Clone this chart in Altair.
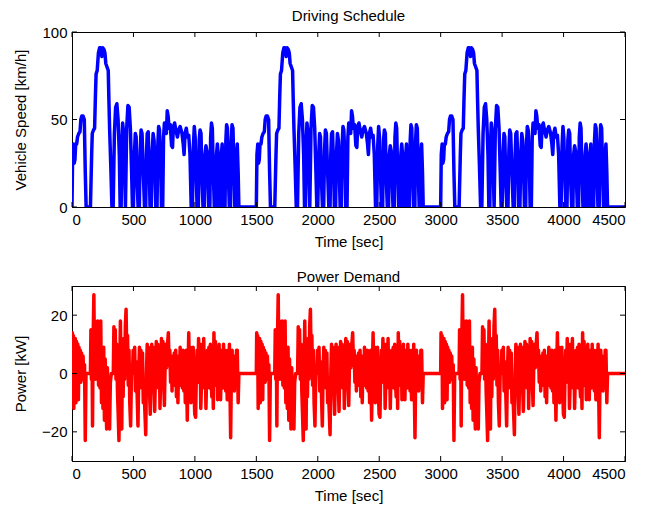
import altair as alt
import pandas as pd

# ---- one driving cycle (repeats every 1500 s) ----
cycle_offsets = [0, 1500, 3000]

speed_t = [0, 5, 12, 18, 24, 30, 38, 45, 55, 65, 72, 80, 90, 100, 108, 115, 150, 160, 165, 175, 184,
           190, 196, 205, 215, 225, 235, 243, 250, 260, 268, 275, 285, 295, 300, 306, 315, 325, 335,
           345, 355, 365, 375, 385, 392, 400, 405, 412, 420, 428, 435, 445, 455, 465, 475, 485, 492,
           500, 508, 515, 522, 530, 538, 548, 555, 562, 570, 580, 590, 600, 606, 612, 620, 628, 635,
           645, 652, 660, 668, 675, 682, 692, 698, 705, 712, 720, 728, 738, 745, 752, 760, 768, 775,
           782, 790, 800, 810, 818, 825, 835, 845, 858, 868, 880, 895, 905, 912, 920, 930, 940, 950,
           960, 970, 980, 988, 995, 1002, 1010, 1018, 1028, 1035, 1042, 1050, 1058, 1066, 1076, 1082,
           1090, 1098, 1105, 1112, 1122, 1128, 1135, 1142, 1150, 1158, 1170, 1176, 1183, 1190, 1198,
           1210, 1216, 1222, 1228, 1235, 1245, 1252, 1258, 1265, 1272, 1280, 1290, 1296, 1302, 1310,
           1318, 1325, 1332, 1338, 1345, 1352, 1358, 1500]
speed_kmh = [0, 30, 36, 25, 27, 36, 36, 40, 42, 43, 50, 52, 52, 50, 20, 0, 0, 30, 42, 44, 45,
             62, 76, 78, 88, 91, 91, 86, 91, 90, 88, 82, 80, 78, 62, 45, 25, 0, 0,
             42, 57, 59, 50, 30, 0, 0, 35, 48, 42, 20, 0, 45, 58, 57, 45, 20, 0,
             0, 30, 42, 40, 15, 0, 0, 32, 44, 42, 20, 0, 0, 30, 42, 43, 25, 0,
             0, 30, 42, 38, 20, 0, 0, 35, 46, 44, 30, 0, 0, 40, 48, 45, 42, 55,
             52, 45, 47, 35, 34, 46, 48, 44, 40, 44, 46, 42, 36, 30, 42, 45, 40, 41,
             30, 0, 0, 35, 46, 40, 20, 0, 0, 38, 44, 42, 15, 0, 0, 30,
             35, 32, 15, 0, 0, 40, 48, 45, 20, 0, 0, 30, 36, 30, 0,
             0, 30, 36, 20, 0, 0, 38, 47, 45, 20, 0, 0, 38, 47, 45,
             20, 0, 0, 30, 36, 20, 0, 0]

power_t = [0, 3, 7, 11, 15, 19, 23, 27, 32, 37, 42, 47, 52, 57, 62, 67, 72, 78, 84, 90, 96, 102, 108,
           114, 150, 154, 158, 162, 167, 172, 178, 183, 188, 193, 198, 204, 210, 216, 222, 228, 234,
           240, 246, 252, 258, 264, 270, 276, 282, 288, 294, 300, 306, 312, 320, 336, 341, 346, 352,
           358, 364, 370, 376, 382, 388, 394, 400, 405, 410, 416, 422, 428, 434, 440, 446, 452, 458,
           464, 470, 477, 484, 492, 498, 504, 510, 516, 522, 528, 537, 543, 549, 555, 561, 567, 574,
           580, 587, 594, 600, 606, 612, 618, 624, 630, 637, 643, 649, 655, 661, 667, 673, 679, 686,
           692, 698, 704, 710, 716, 722, 728, 734, 740, 746, 752, 758, 764, 770, 776, 784, 790, 796,
           802, 808, 814, 820, 826, 832, 838, 844, 850, 856, 862, 868, 874, 880, 886, 892, 898, 904,
           910, 916, 922, 930, 938, 944, 950, 956, 962, 968, 974, 980, 986, 992, 999, 1006, 1012,
           1018, 1024, 1030, 1036, 1042, 1048, 1054, 1060, 1066, 1072, 1078, 1084, 1090, 1096, 1102,
           1108, 1114, 1120, 1126, 1132, 1138, 1144, 1150, 1155, 1161, 1167, 1173, 1179, 1185, 1191,
           1197, 1203, 1209, 1215, 1221, 1227, 1233, 1239, 1245, 1251, 1257, 1263, 1269, 1275, 1281,
           1287, 1291, 1297, 1303, 1309, 1315, 1321, 1327, 1333, 1339, 1345, 1352, 1358, 1500]
power_kw = [0, 14, 6, 13, -12, 8, -8, 12, -10, 11, -4, 10, -9, 9, 1, 8, -3, 7, 0, 6, -2, 3, -23,
            0, 0, 15, -2, 14, -18, 12, 27, 4, 18, -2, 17, 2, 18, -4, 8, -5, 18,
            -10, 6, -12, 9, -16, 5, -8, -19, 2, -15, -6, -19, -3, 0, 0, 16, 4, 15,
            -2, 10, -6, -14, -23, 0, 18, -2, -19, 6, -8, 12, -2, 16, 22, 5, 13, -4,
            8, -10, -18, 0, 0, 8, 4, 9, -6, 4, -4, -18, 0, 9, -3, 8, -5, 7,
            -10, -6, -14, -21, 0, 10, -2, 9, -5, -14, 0, 10, -3, 9, -4, -13, 0, 11,
            -2, 10, -5, 8, -12, 0, 12, 3, 11, -3, -11, 4, 10, 2, 9, 14, 3, 8,
            -3, 6, -6, 4, -4, 7, -1, 8, -8, 5, -10, 6, -4, 9, 0, 7, -5, 8,
            -6, 5, -10, 8, -16, 0, 14, -1, 9, -10, 4, -6, 9, -5, -14, -15, 0,
            8, -3, 12, 2, 10, -12, -3, 10, 1, 12, -5, 5, -12, 0, 8,
            -3, 9, -5, 10, -3, -8, 4, -12, 14, 2, 11, -4, 9, -9, 1,
            10, -3, -9, 3, 8, -5, 10, -2, 8, -6, 5, -9, 8, 0, 10,
            -10, -22, 0, 8, -3, 6, -6, 4, -2, 8, 8, -10, 0, 0]

x_ticks = [0, 500, 1000, 1500, 2000, 2500, 3000, 3500, 4000, 4500]
speed_ticks = [0, 50, 100]
power_ticks = [-20, 0, 20]

rows_s = []
rows_p = []
for off in cycle_offsets:
    rows_s += [{"t": t + off, "v": v} for t, v in zip(speed_t, speed_kmh)]
    rows_p += [{"t": t + off, "v": p} for t, p in zip(power_t, power_kw)]
speed_df = pd.DataFrame(rows_s)
power_df = pd.DataFrame(rows_p)

W, H = 553, 175
FONT = "Liberation Sans"
FS = 15
xscale = alt.Scale(domain=[0, 4500], nice=False, zero=False)


def panel(df, color, yticks, ydomain, ytitle, title):
    yscale = alt.Scale(domain=ydomain, nice=False, zero=False)
    xaxis = alt.Axis(values=x_ticks, ticks=False, grid=False, labelPadding=5,
                     titlePadding=7, format="d")
    yaxis = alt.Axis(values=yticks, ticks=False, grid=False, labelPadding=5,
                     titlePadding=13, format="d")
    X = alt.X("t:Q", scale=xscale, title="Time [sec]", axis=xaxis)
    Y = alt.Y("v:Q", scale=yscale, title=ytitle, axis=yaxis)
    line = alt.Chart(df).mark_line(color=color, strokeWidth=3.5, strokeJoin="round", clip=True).encode(
        x=X, y=Y)
    xt = pd.DataFrame({"t": x_ticks})
    yt = pd.DataFrame({"v": yticks})
    xb = alt.Chart(xt).mark_rule(color="black", strokeWidth=1).encode(
        x=X, y=alt.value(H), y2=alt.value(H - 5))
    xtop = alt.Chart(xt).mark_rule(color="black", strokeWidth=1).encode(
        x=X, y=alt.value(0), y2=alt.value(5))
    yl = alt.Chart(yt).mark_rule(color="black", strokeWidth=1).encode(
        y=Y, x=alt.value(0), x2=alt.value(5))
    yr = alt.Chart(yt).mark_rule(color="black", strokeWidth=1).encode(
        y=Y, x=alt.value(W), x2=alt.value(W - 5))
    return alt.layer(line, xb, xtop, yl, yr).properties(
        width=W, height=H,
        title=alt.TitleParams(title, fontSize=FS, fontWeight="normal", font=FONT,
                              color="black", offset=1, anchor="middle"))


top = panel(speed_df, "#0000FF", speed_ticks, [0, 100], "Vehicle Speed [km/h]", "Driving Schedule")
bottom = panel(power_df, "#FF0000", power_ticks, [-30, 30], "Power [kW]", "Power Demand")

chart = alt.vconcat(top, bottom, spacing=19).properties(
    padding={"left": 5, "top": 0, "right": 5, "bottom": 0},
    background="white",
).configure_view(
    stroke="black", strokeWidth=1
).configure_axis(
    domain=True, domainColor="black", domainWidth=1,
    labelFont=FONT, labelFontSize=FS, labelColor="black",
    titleFont=FONT, titleFontSize=FS, titleFontWeight="normal", titleColor="black",
)

chart.save("out.html", embed_options={"renderer": "svg", "actions": False})
